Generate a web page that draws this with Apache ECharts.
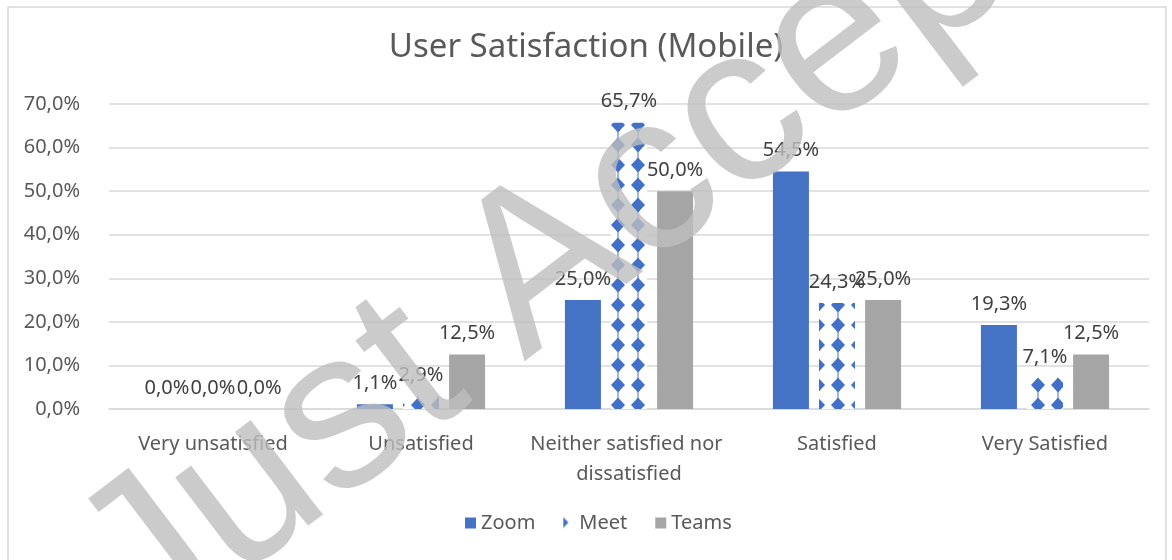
<!DOCTYPE html>
<html>
<head>
<meta charset="utf-8">
<script src="https://cdn.jsdelivr.net/npm/echarts@6/dist/echarts.min.js"></script>
<style>
  html, body { margin: 0; padding: 0; background: #fff; }
  #main { width: 1172px; height: 560px; }
</style>
</head>
<body>
<div id="main"></div>
<script>
// 数据
var categories = ['Very unsatisfied', 'Unsatisfied', 'Neither satisfied nor dissatisfied', 'Satisfied', 'Very Satisfied'];
var zoomData = [0.0, 1.1, 25.0, 54.5, 19.3];
var meetData = [0.0, 2.9, 65.7, 24.3, 7.1];
var teamsData = [0.0, 12.5, 50.0, 25.0, 12.5];
var seriesNames = ['Zoom', 'Meet', 'Teams'];

var FONT = '"Noto Sans", sans-serif';
var BLUE = '#4472C4';

// Meet 的菱形图案填充
function makePattern() {
  var c = document.createElement('canvas');
  c.width = 20; c.height = 20;
  var ctx = c.getContext('2d');
  ctx.fillStyle = '#ffffff';
  ctx.fillRect(0, 0, 20, 20);
  ctx.fillStyle = '#4170C8';
  // 菱形中心放在 (18, 5)，四周重复
  [[18, 5], [-2, 5], [18, 25], [-2, 25]].forEach(function (p) {
    ctx.beginPath();
    ctx.moveTo(p[0], p[1] - 7.5);
    ctx.lineTo(p[0] + 7, p[1]);
    ctx.lineTo(p[0], p[1] + 7.5);
    ctx.lineTo(p[0] - 7, p[1]);
    ctx.closePath();
    ctx.fill();
  });
  ctx.fillRect(17.5, 0, 1, 20);
  return c;
}
var meetColor = { image: makePattern(), repeat: 'repeat' };

function pct(v) {
  return v.toFixed(1).replace('.', ',') + '%';
}

var labelStyle = {
  show: true,
  position: 'top',
  distance: 11,
  color: '#404040',
  fontSize: 20,
  fontFamily: FONT,
  formatter: function (p) { return pct(p.value); }
};

var option = {
  backgroundColor: '#fff',
  animation: false,
  title: {
    text: 'User Satisfaction (Mobile)',
    left: 'center',
    top: 26,
    textStyle: { color: '#595959', fontSize: 33, fontWeight: 'normal', fontFamily: FONT }
  },
  legend: {
    data: seriesNames,
    bottom: 22,
    left: 460,
    itemWidth: 11,
    itemHeight: 11,
    itemGap: 28,
    icon: 'rect',
    textStyle: { color: '#595959', fontSize: 20, fontFamily: FONT }
  },
  grid: { left: 109, right: 23, top: 104, bottom: 151 },
  xAxis: {
    type: 'category',
    data: categories,
    axisLine: { lineStyle: { color: '#D9D9D9', width: 1.5 } },
    axisTick: { show: false },
    axisLabel: {
      color: '#595959',
      fontSize: 20,
      fontFamily: FONT,
      margin: 20,
      width: 205,
      overflow: 'break',
      lineHeight: 30,
      interval: 0
    }
  },
  yAxis: {
    type: 'value',
    min: 0,
    max: 70,
    interval: 10,
    axisLine: { show: false },
    axisTick: { show: false },
    splitLine: { lineStyle: { color: '#D9D9D9', width: 1.5 } },
    axisLabel: {
      color: '#595959',
      fontSize: 20,
      fontFamily: FONT,
      margin: 29,
      formatter: function (v) { return pct(v); }
    }
  },
  series: [
    {
      name: 'Zoom', type: 'bar', data: zoomData,
      barWidth: 36, barGap: '28%',
      itemStyle: { color: BLUE },
      label: labelStyle
    },
    {
      name: 'Meet', type: 'bar', data: meetData,
      barWidth: 36, barGap: '28%',
      itemStyle: { color: meetColor },
      label: labelStyle
    },
    {
      name: 'Teams', type: 'bar', data: teamsData,
      barWidth: 36, barGap: '28%',
      itemStyle: { color: '#A5A5A5' },
      label: labelStyle
    }
  ],
  graphic: [
    {
      type: 'rect',
      shape: { x: 8, y: 7, width: 1158, height: 600 },
      style: { fill: 'none', stroke: '#D9D9D9', lineWidth: 1.5 },
      silent: true,
      z: -10
    },
    {
      type: 'text',
      x: 671,
      y: 172,
      rotation: 0.65,
      style: {
        text: 'Just Accepted',
        fill: 'rgba(190,190,190,0.8)',
        font: '225px "Liberation Sans", sans-serif',
        align: 'center',
        verticalAlign: 'middle'
      },
      silent: true,
      z: 100
    }
  ]
};

var chart = echarts.init(document.getElementById('main'));
chart.setOption(option);
</script>
</body>
</html>
